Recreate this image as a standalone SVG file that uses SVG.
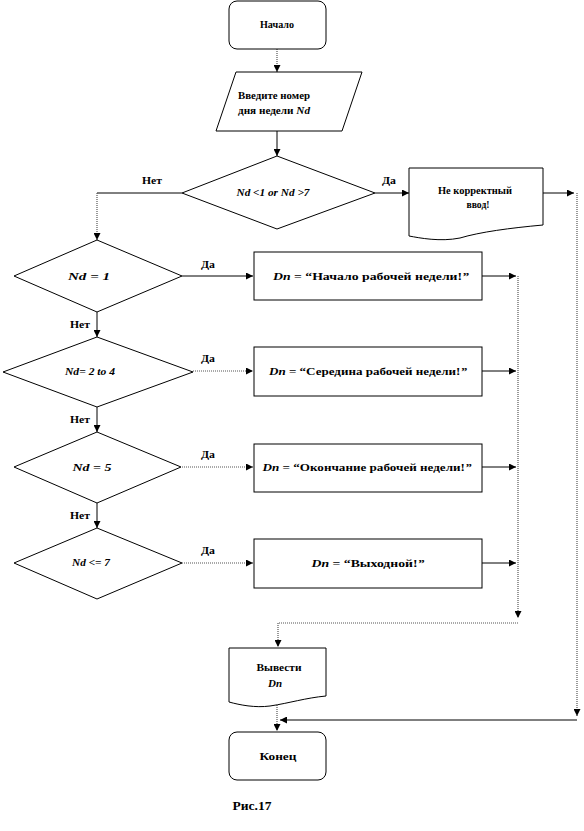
<svg xmlns="http://www.w3.org/2000/svg" width="584" height="831" viewBox="0 0 584 831">
<defs>
<marker id="ah" viewBox="0 0 8 8" refX="8" refY="4" markerWidth="7" markerHeight="7" markerUnits="userSpaceOnUse" orient="auto">
<path d="M0,0 L8,4 L0,8 z" fill="#000"/>
</marker>
</defs>
<style>
.sh{fill:#fff;stroke:#000;stroke-width:1}
text{font-family:"Liberation Serif","DejaVu Serif","Times New Roman",serif;font-weight:bold;font-size:11px;fill:#000;text-anchor:middle}
.i{font-style:italic}
.c{fill:none;stroke:#000;stroke-width:1}
.d{fill:none;stroke:#555;stroke-width:1.2;stroke-dasharray:1 1}
</style>
<rect width="584" height="831" fill="#fff"/>
<g id="connectors">
<path class="d" d="M277,49 V72" marker-end="url(#ah)"/>
<path class="c" d="M277,130 V156" marker-end="url(#ah)"/>
<path class="c" d="M182,193 H97"/>
<path class="d" d="M97,193 V240" marker-end="url(#ah)"/>
<path class="c" d="M375,193 H409" marker-end="url(#ah)"/>
<path class="c" d="M543,193 H574" marker-end="url(#ah)"/>
<path class="d" d="M577,193 V716" marker-end="url(#ah)"/>
<path class="c" d="M577,720 H280" marker-end="url(#ah)"/>
<path class="c" d="M182,276 H253" marker-end="url(#ah)"/>
<path class="c" d="M482,276 H516" marker-end="url(#ah)" stroke-width="1.6"/>
<path class="c" d="M97,312 V337" marker-end="url(#ah)" stroke="#555"/>
<path class="d" d="M193,371 H253" marker-end="url(#ah)"/>
<path class="c" d="M482,371 H516" marker-end="url(#ah)"/>
<path class="c" d="M97,407 V432" marker-end="url(#ah)" stroke="#555"/>
<path class="d" d="M182,467 H253" marker-end="url(#ah)"/>
<path class="c" d="M482,467 H516" marker-end="url(#ah)"/>
<path class="c" d="M97,503 V528" marker-end="url(#ah)" stroke="#555"/>
<path class="d" d="M182,563 H253" marker-end="url(#ah)"/>
<path class="c" d="M482,563 H516" marker-end="url(#ah)"/>
<path class="d" d="M518,276 V618" marker-end="url(#ah)"/>
<path class="d" d="M518,623 H278 V647" marker-end="url(#ah)"/>
<path class="d" d="M277,705 V731" marker-end="url(#ah)"/>
<text x="152" y="184" textLength="20" lengthAdjust="spacingAndGlyphs">Нет</text>
<text x="389" y="184" textLength="14" lengthAdjust="spacingAndGlyphs">Да</text>
<text x="208" y="268" textLength="14" lengthAdjust="spacingAndGlyphs">Да</text>
<text x="80" y="328" textLength="20" lengthAdjust="spacingAndGlyphs">Нет</text>
<text x="208" y="362" textLength="14" lengthAdjust="spacingAndGlyphs">Да</text>
<text x="80" y="423" textLength="20" lengthAdjust="spacingAndGlyphs">Нет</text>
<text x="208" y="458" textLength="14" lengthAdjust="spacingAndGlyphs">Да</text>
<text x="80" y="519" textLength="20" lengthAdjust="spacingAndGlyphs">Нет</text>
<text x="208" y="554" textLength="14" lengthAdjust="spacingAndGlyphs">Да</text>
</g>
<g id="start">
<rect class="sh" x="229" y="1" width="97" height="48" rx="8"/>
<text x="277" y="28" textLength="34" lengthAdjust="spacingAndGlyphs">Начало</text>
</g>
<g id="input">
<path class="sh" d="M236,72 H362 L342,131 H216 Z"/>
<text x="274" y="99" textLength="72" lengthAdjust="spacingAndGlyphs">Введите номер</text>
<text x="274" y="114" textLength="72" lengthAdjust="spacingAndGlyphs">дня недели <tspan class="i">Nd</tspan></text>
</g>
<g id="check">
<path class="sh" d="M277,156 L375,193 L277,229 L182,193 Z"/>
<text class="i" x="273" y="196" textLength="73" lengthAdjust="spacingAndGlyphs">Nd &lt;1 or Nd &gt;7</text>
</g>
<g id="error">
<path class="sh" d="M409,168 H543 V225 C510,228 480,232 460,238 C440,242 420,238 409,236 Z"/>
<text x="475" y="194" textLength="74" lengthAdjust="spacingAndGlyphs">Не корректный</text>
<text x="478" y="208" textLength="23" lengthAdjust="spacingAndGlyphs">ввод!</text>
</g>
<g id="d1">
<path class="sh" d="M97,240 L182,276 L97,312 L14,276 Z"/>
<text class="i" x="89" y="280" textLength="42" lengthAdjust="spacingAndGlyphs">Nd = 1</text>
</g>
<g id="b1">
<rect class="sh" x="254" y="252" width="228" height="48"/>
<text x="371" y="280" textLength="196" lengthAdjust="spacingAndGlyphs"><tspan class="i">Dn</tspan> = “Начало рабочей недели!<tspan class="i">”</tspan></text>
</g>
<g id="d2">
<path class="sh" d="M97,337 L193,372 L97,407 L3,372 Z"/>
<text class="i" x="90" y="375" textLength="50" lengthAdjust="spacingAndGlyphs">Nd= 2 to 4</text>
</g>
<g id="b2">
<rect class="sh" x="254" y="347" width="228" height="49"/>
<text x="368" y="375" textLength="198" lengthAdjust="spacingAndGlyphs"><tspan class="i">Dn</tspan> = “Середина рабочей недели!<tspan class="i">”</tspan></text>
</g>
<g id="d3">
<path class="sh" d="M97,432 L181,467 L97,503 L14,467 Z"/>
<text class="i" x="92" y="471" textLength="39" lengthAdjust="spacingAndGlyphs">Nd = 5</text>
</g>
<g id="b3">
<rect class="sh" x="254" y="444" width="228" height="48"/>
<text x="367" y="471" textLength="209" lengthAdjust="spacingAndGlyphs"><tspan class="i">Dn</tspan> = “Окончание рабочей недели!<tspan class="i">”</tspan></text>
</g>
<g id="d4">
<path class="sh" d="M97,528 L182,563 L97,599 L14,563 Z"/>
<text class="i" x="91" y="566" textLength="38" lengthAdjust="spacingAndGlyphs">Nd &lt;= 7</text>
</g>
<g id="b4">
<rect class="sh" x="254" y="539" width="228" height="49"/>
<text x="368" y="567" textLength="113" lengthAdjust="spacingAndGlyphs"><tspan class="i">Dn</tspan> = “Выходной!<tspan class="i">”</tspan></text>
</g>
<g id="output">
<path class="sh" d="M229,648 H326 V696 C305,698 290,703 270,706 C255,708 240,705 229,702 Z"/>
<text x="279" y="671" textLength="45" lengthAdjust="spacingAndGlyphs">Вывести</text>
<text class="i" x="275" y="687" textLength="14" lengthAdjust="spacingAndGlyphs">Dn</text>
</g>
<g id="end">
<rect class="sh" x="229" y="732" width="97" height="48" rx="8"/>
<text x="278" y="760" textLength="37" lengthAdjust="spacingAndGlyphs">Конец</text>
</g>
<g id="caption">
<text x="252" y="810" style="font-size:12px" textLength="39" lengthAdjust="spacingAndGlyphs">Рис.17</text>
</g>
</svg>
